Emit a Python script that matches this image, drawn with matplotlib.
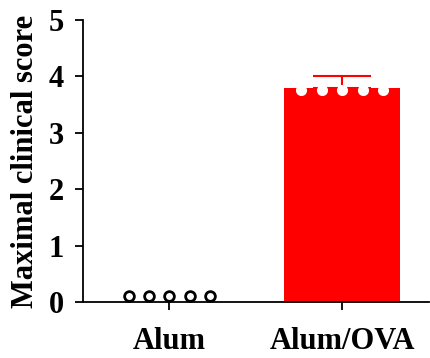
import matplotlib.pyplot as plt
import numpy as np

plt.rcParams['font.family'] = ['Liberation Serif', 'DejaVu Serif']
plt.rcParams['font.weight'] = 'bold'

groups = ['Alum', 'Alum/OVA']
means = [0.0, 3.8]
sem = [0.0, 0.2]
alum_pts = [0.1, 0.1, 0.1, 0.1, 0.1]
ova_pts = [3.75, 3.75, 3.75, 3.75, 3.75]

fig = plt.figure(figsize=(4.3, 3.58), dpi=100)
ax = fig.add_axes([83 / 430, 56 / 358, 1 - 83 / 430 - 0.003, 282 / 358])

x = np.arange(len(groups))
ax.bar(x[1], means[1], width=0.67, color='#ff0000', zorder=1)
ax.errorbar(x[1], means[1], yerr=[[0], [sem[1]]], color='#ff0000',
            capsize=21, elinewidth=1.5, capthick=1.5, zorder=2)

offs = np.array([-2, -1, 0, 1, 2]) * 0.118
ax.plot(x[0] + offs, alum_pts, 'o', mfc='white', mec='black', mew=2,
        ms=7, clip_on=False, zorder=3)
ax.plot(x[1] + offs, ova_pts, 'o', mfc='white', mec='white', mew=1,
        ms=7, zorder=3)

ax.set_xlim(-0.5, 1.5)
ax.set_ylim(0, 5)
ax.set_xticks(x)
ax.set_xticklabels(groups, fontsize=22, fontweight='bold')
ax.set_yticks(range(6))
ax.set_yticklabels([str(i) for i in range(6)], fontsize=22, fontweight='bold')
ax.set_ylabel('Maximal clinical score', fontsize=22, fontweight='bold', labelpad=6)

for s in ['top', 'right']:
    ax.spines[s].set_visible(False)
for s in ['left', 'bottom']:
    ax.spines[s].set_linewidth(1.3)
ax.tick_params(axis='both', direction='out', length=6, width=1.3)
ax.tick_params(axis='x', pad=12)
ax.tick_params(axis='y', pad=8)

fig.savefig('out.png', dpi=100)
